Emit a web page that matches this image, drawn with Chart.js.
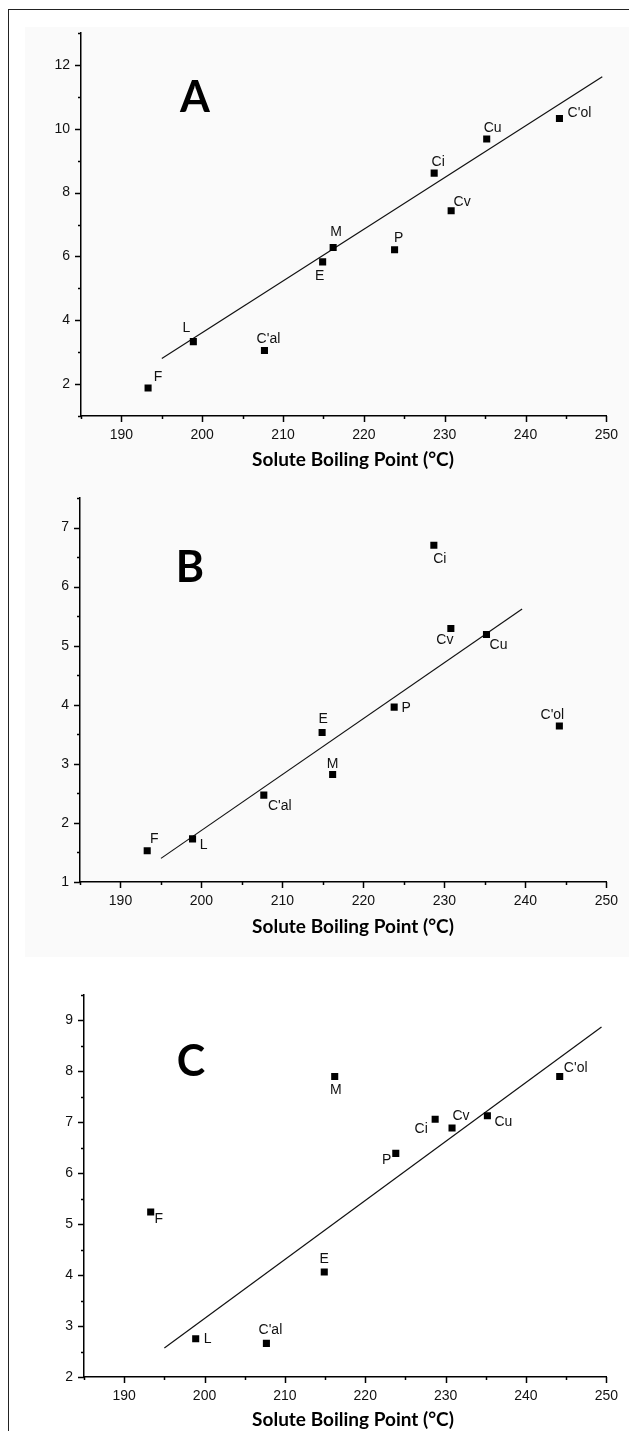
<!DOCTYPE html>
<html>
<head>
<meta charset="utf-8">
<script src="https://cdn.jsdelivr.net/npm/chart.js@4.4.1/dist/chart.umd.min.js"></script>
<style>
  html, body { margin: 0; padding: 0; background: #fff; }
  body { width: 629px; height: 1431px; position: relative; overflow: hidden; }
  .frame { position: absolute; left: 8px; top: 9px; width: 640px; height: 1440px;
           border-top: 1.5px solid #222; border-left: 1.5px solid #222; }
  .bg { position: absolute; background: #fafafa; }
  canvas { position: absolute; left: 0; }
</style>
</head>
<body>
<div class="frame"></div>
<div class="bg" style="left:25px;top:27px;width:604px;height:930px"></div>
<canvas id="chartA" width="629" height="490" style="top:0px"></canvas>
<canvas id="chartB" width="629" height="487" style="top:470px"></canvas>
<canvas id="chartC" width="629" height="480" style="top:957px"></canvas>
<script>
// ---------------- data ----------------
const solutes = ['F', 'L', "C'al", 'E', 'M', 'P', 'Ci', 'Cv', 'Cu', "C'ol"];
const boilingPoints = [193.3, 198.9, 207.7, 214.9, 216.2, 223.8, 228.7, 230.8, 235.2, 244.2];

const valuesA = [1.88, 3.33, 3.05, 5.83, 6.28, 6.21, 8.61, 7.43, 9.68, 10.32];
const valuesB = [1.53, 1.73, 2.47, 3.53, 2.82, 3.96, 6.70, 5.29, 5.19, 3.64];
const valuesC = [5.24, 2.75, 2.66, 4.06, 7.90, 6.39, 7.06, 6.89, 7.13, 7.90];

const fitXA = [195, 249.5];
const fitYA = [2.80, 11.63];
const fitXB = [195, 239.6];
const fitYB = [1.40, 5.62];
const fitXC = [195, 249.4];
const fitYC = [2.57, 8.87];

const xTickValues = [190, 200, 210, 220, 230, 240, 250];
const yTickValuesA = [2, 4, 6, 8, 10, 12];
const yTickValuesB = [1, 2, 3, 4, 5, 6, 7];
const yTickValuesC = [2, 3, 4, 5, 6, 7, 8, 9];

const xTitle = 'Solute Boiling Point (°C)';
const panelLetters = ['A', 'B', 'C'];

// ---------------- layout / style (not data) ----------------
const labelOffsetsA = [[10,-11],[-7,-13],[4,-11],[-3,14],[3,-15],[4,-12],[4,-11],[11,-9],[6,-11],[20,-5]];
const labelOffsetsB = [[7,-12],[11,6],[16,11],[1,-13],[0,-10],[12,1],[6,14],[-6,12],[12,11],[-7,-11]];
const labelOffsetsC = [[8,7],[12,0],[4,-13],[0,-13],[1,14],[-9,7],[-14,10],[9,-12],[16,6],[16,-8]];

const TICK_FONT = { family: "'Liberation Sans', Arial, sans-serif", size: 14 };
const INK = '#111';

const axisTicksPlugin = {
  id: 'axisTicks',
  afterDraw(chart) {
    const ctx = chart.ctx;
    ctx.save();
    ctx.strokeStyle = '#000';
    ctx.lineWidth = 1.5;
    const xs = chart.scales.x, ys = chart.scales.y;
    const xAxisY = chart.chartArea.bottom, yAxisX = chart.chartArea.left;
    xs.ticks.forEach(t => {
      const major = xs.options.majorValues.includes(t.value);
      const px = Math.round(xs.getPixelForValue(t.value)) + 0.5;
      ctx.beginPath();
      ctx.moveTo(px, xAxisY);
      ctx.lineTo(px, xAxisY + (major ? 6 : 3));
      ctx.stroke();
    });
    ys.ticks.forEach(t => {
      const major = ys.options.majorValues.includes(t.value);
      const py = Math.round(ys.getPixelForValue(t.value)) + 0.5;
      ctx.beginPath();
      ctx.moveTo(yAxisX, py);
      ctx.lineTo(yAxisX - (major ? 6 : 3), py);
      ctx.stroke();
    });
    ctx.restore();
  }
};

const pointLabelsPlugin = {
  id: 'pointLabels',
  afterDatasetsDraw(chart, args, opts) {
    const ctx = chart.ctx;
    const meta = chart.getDatasetMeta(0);
    ctx.save();
    ctx.font = "14px 'Liberation Sans', Arial, sans-serif";
    ctx.fillStyle = INK;
    ctx.textAlign = 'center';
    ctx.textBaseline = 'middle';
    meta.data.forEach((el, i) => {
      const off = opts.offsets[i];
      ctx.fillText(solutes[i], el.x + off[0], el.y + off[1]);
    });
    // panel letter
    ctx.font = "bold 43px Lato, 'Open Sans', sans-serif";
    ctx.fillStyle = '#000';
    ctx.fillText(opts.letter, opts.letterPos[0], opts.letterPos[1]);
    // x-axis title
    ctx.font = "bold 19px Lato, 'Open Sans', sans-serif";
    ctx.fillText(xTitle, opts.titleX, chart.chartArea.bottom + opts.titleDy);
    ctx.restore();
  }
};

function makeChart(id, cfg) {
  const scatter = boilingPoints.map((x, i) => ({ x: x, y: cfg.values[i] }));
  const fit = cfg.fitX.map((x, i) => ({ x: x, y: cfg.fitY[i] }));
  return new Chart(document.getElementById(id), {
    type: 'scatter',
    data: {
      datasets: [
        { data: scatter, pointStyle: 'rect', pointRadius: 5, pointHoverRadius: 5,
          backgroundColor: '#000', borderWidth: 0, showLine: false },
        { type: 'line', data: fit, borderColor: '#111', borderWidth: 1.2,
          pointRadius: 0, fill: false, tension: 0 }
      ]
    },
    options: {
      responsive: false,
      animation: false,
      devicePixelRatio: 1,
      layout: { padding: cfg.padding },
      plugins: {
        legend: { display: false },
        tooltip: { enabled: false },
        pointLabels: { offsets: cfg.offsets, letter: cfg.letter, letterPos: cfg.letterPos,
                       titleX: 353, titleDy: cfg.titleDy }
      },
      scales: {
        x: {
          type: 'linear', min: 185, max: 250,
          majorValues: xTickValues,
          afterFit(s) { s.height = 56; },
          ticks: { stepSize: 5, autoSkip: false, maxRotation: 0, padding: 11,
                   font: TICK_FONT, color: INK,
                   callback: v => xTickValues.includes(v) ? String(v) : '' },
          grid: { display: false, drawTicks: false },
          border: { display: true, color: '#000', width: 1.5 },
          title: { display: false }
        },
        y: {
          type: 'linear', min: cfg.yMin, max: cfg.yMax,
          majorValues: cfg.yTicks,
          afterFit(s) { s.width = cfg.yWidth; },
          ticks: { stepSize: cfg.yStep, autoSkip: false, padding: 11,
                   font: TICK_FONT, color: INK,
                   callback: v => cfg.yTicks.includes(v) ? String(v) : '' },
          grid: { display: false, drawTicks: false },
          border: { display: true, color: '#000', width: 1.5 }
        }
      }
    },
    plugins: [axisTicksPlugin, pointLabelsPlugin]
  });
}

makeChart('chartA', {
  values: valuesA, fitX: fitXA, fitY: fitYA, yMin: 1, yMax: 13, yStep: 1,
  yTicks: yTickValuesA, yWidth: 81, offsets: labelOffsetsA,
  padding: { top: 33, right: 18, bottom: 18, left: 0 },
  letter: panelLetters[0], letterPos: [195, 98], titleDy: 44
});
makeChart('chartB', {
  values: valuesB, fitX: fitXB, fitY: fitYB, yMin: 1, yMax: 7.5, yStep: 0.5,
  yTicks: yTickValuesB, yWidth: 80, offsets: labelOffsetsB,
  padding: { top: 28, right: 20, bottom: 19, left: 0 },
  letter: panelLetters[1], letterPos: [190, 98], titleDy: 45
});
makeChart('chartC', {
  values: valuesC, fitX: fitXC, fitY: fitYC, yMin: 2, yMax: 9.5, yStep: 0.5,
  yTicks: yTickValuesC, yWidth: 84, offsets: labelOffsetsC,
  padding: { top: 38, right: 15, bottom: 4, left: 0 },
  letter: panelLetters[2], letterPos: [191, 105], titleDy: 43
});
</script>
</body>
</html>
